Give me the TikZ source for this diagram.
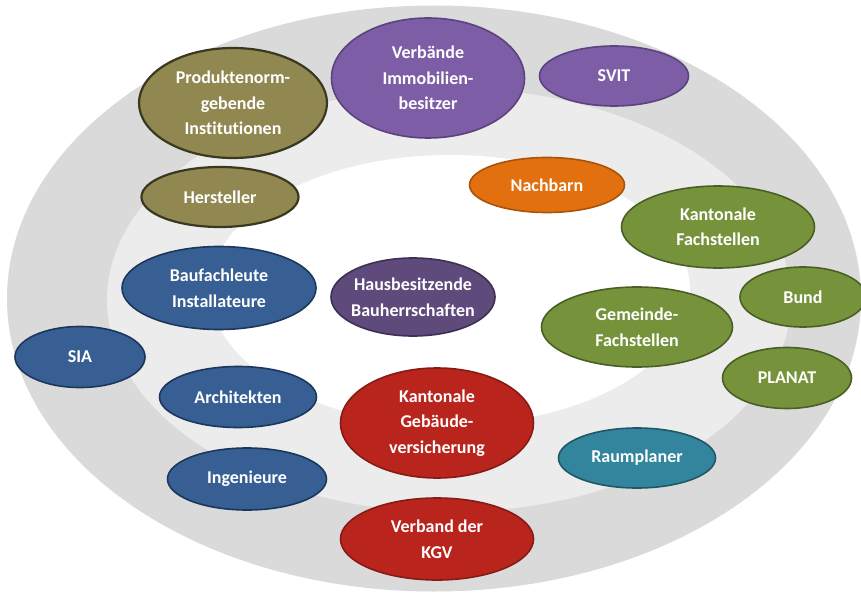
\documentclass[tikz,border=0pt]{standalone}
\usepackage{fontspec}
\setmainfont{Carlito}[Ligatures=NoCommon]
\usetikzlibrary{shapes.geometric}
\definecolor{ringouter}{HTML}{DADADA}
\definecolor{ringmid}{HTML}{ECECEC}
\definecolor{olivef}{HTML}{918851}
\definecolor{oliveb}{HTML}{3B3820}
\definecolor{purplef}{HTML}{7D5EA6}
\definecolor{purpleb}{HTML}{5A437E}
\definecolor{dpurplef}{HTML}{5F4A7C}
\definecolor{dpurpleb}{HTML}{3E3052}
\definecolor{orangef}{HTML}{E2700F}
\definecolor{orangeb}{HTML}{A9530B}
\definecolor{greenf}{HTML}{76933C}
\definecolor{greenb}{HTML}{4A5F25}
\definecolor{bluef}{HTML}{375F93}
\definecolor{blueb}{HTML}{1C375C}
\definecolor{redf}{HTML}{B9251C}
\definecolor{redb}{HTML}{861B15}
\definecolor{tealf}{HTML}{32859C}
\definecolor{tealb}{HTML}{1F5766}
\tikzset{
  bub/.style={ellipse, inner sep=0pt, align=center, text=white,
    font={\fontsize{18}{25.5}\selectfont\bfseries}, line width=1.6pt},
  sz/.style 2 args={minimum width=#1pt, minimum height=#2pt},
  olivebub/.style={bub, fill=olivef, draw=oliveb, line width=2.2pt},
  purplebub/.style={bub, fill=purplef, draw=purpleb},
  dpurplebub/.style={bub, fill=dpurplef, draw=dpurpleb},
  orangebub/.style={bub, fill=orangef, draw=orangeb},
  greenbub/.style={bub, fill=greenf, draw=greenb},
  bluebub/.style={bub, fill=bluef, draw=blueb},
  redbub/.style={bub, fill=redf, draw=redb},
  tealbub/.style={bub, fill=tealf, draw=tealb},
}
\begin{document}
\begin{tikzpicture}[x=1pt, y=-1pt]
\useasboundingbox (0,0) rectangle (861,596);
\fill[white] (0,0) rectangle (861,596);
% rings
\fill[ringouter] (434,298.5) ellipse [x radius=427pt, y radius=293pt];
\fill[ringmid] (449,300) ellipse [x radius=342pt, y radius=212pt];
\fill[white] (450,290) ellipse [x radius=240pt, y radius=135pt];
% bubbles
\node[olivebub, sz={188}{110}] (prod) at (233,103) {Produktenorm-\\gebende\\Institutionen};
\node[purplebub, sz={193}{120}] (verb) at (428,78) {Verbände\\Immobilien-\\besitzer};
\node[purplebub, sz={149}{60}] (svit) at (614,76) {SVIT};
\node[olivebub, sz={157}{60}] (herst) at (220,197) {Hersteller};
\node[orangebub, sz={155}{55}] (nach) at (547,185) {Nachbarn};
\node[greenbub, sz={193}{82}] (kfach) at (718,227) {Kantonale\\Fachstellen};
\node[bluebub, sz={194}{83}] (bauf) at (219,288) {Baufachleute\\Installateure};
\node[dpurplebub, sz={164}{78}, inner xsep=-5pt] (haus) at (413,297) {Hausbesitzende\\Bauherrschaften};
\node[greenbub, sz={191}{80}] (gem) at (637,327) {Gemeinde-\\Fachstellen};
\node[greenbub, sz={126}{60}] (bund) at (803,297) {Bund};
\node[bluebub, sz={130}{61}] (sia) at (80,357) {SIA};
\node[bluebub, sz={157}{61}] (arch) at (238,397) {Architekten};
\node[greenbub, sz={129}{61}] (planat) at (787,378) {PLANAT};
\node[redbub, sz={193}{110}] (kgvers) at (437,423) {Kantonale\\Gebäude-\\versicherung};
\node[tealbub, sz={157}{60}] (raum) at (637,458) {Raumplaner};
\node[bluebub, sz={159}{62}] (ing) at (247,479) {Ingenieure};
\node[redbub, sz={193}{82}] (vkgv) at (437,539) {Verband der\\KGV};
\end{tikzpicture}
\end{document}
